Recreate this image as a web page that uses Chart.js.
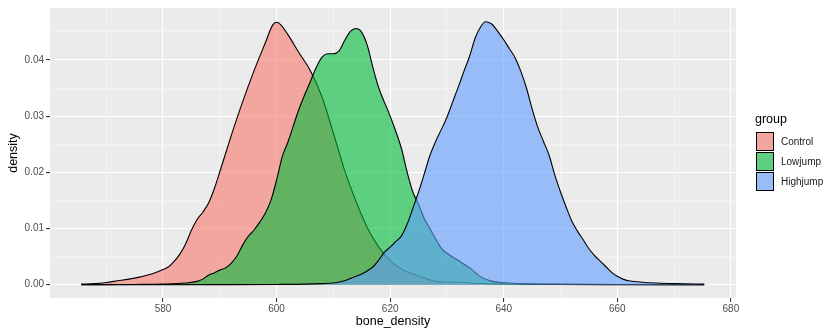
<!DOCTYPE html>
<html>
<head>
<meta charset="utf-8">
<script src="https://cdn.jsdelivr.net/npm/chart.js@4"></script>
<style>
  body { margin: 0; background: #fff; }
  #wrap { position: relative; width: 827px; height: 329px; font-family: "Liberation Sans", Arial, sans-serif; }
  .legend-title { position: absolute; left: 755px; top: 112px; font-size: 12.5px; color: #000; }
  .key { position: absolute; left: 756px; width: 16px; height: 17px; border: 1px solid #000; }
  .key-label { position: absolute; left: 781px; font-size: 10px; color: #1a1a1a; }
</style>
</head>
<body>
<div id="wrap">
  <canvas id="densityChart" width="827" height="329"></canvas>
  <div class="legend-title">group</div>
  <div id="legend"></div>
</div>
<script>

let groups = ["Control", "Lowjump", "Highjump"];
let fills = ["rgba(248,118,109,0.6)", "rgba(0,186,56,0.6)", "rgba(97,156,255,0.6)"];
let keyFills = ["#F3A5A0", "#5ECE80", "#98BCF7"];

let controlX = [565.6, 568, 570, 572, 574, 576, 578, 580, 581, 582, 583, 584, 585, 586, 587, 588, 589, 590, 592, 594, 596, 598, 599.3, 600, 600.7, 602, 604, 606, 608, 610, 612, 614, 616, 618, 620, 622, 624, 626, 628, 630, 632, 634, 637, 642, 650, 660, 675.3];
let controlY = [0.0001, 0.0002, 0.0004, 0.0007, 0.0010, 0.0014, 0.0019, 0.0027, 0.0032, 0.0042, 0.0055, 0.0073, 0.0097, 0.0116, 0.0129, 0.0145, 0.0170, 0.0201, 0.0265, 0.0325, 0.0380, 0.0430, 0.0462, 0.0467, 0.0463, 0.0445, 0.0412, 0.0380, 0.0334, 0.0270, 0.0203, 0.0148, 0.0101, 0.0067, 0.0043, 0.0028, 0.0019, 0.0012, 0.0006, 0.0005, 0.0005, 0.0003, 0.0002, 0.0001, 0.00005, 0.00002, 0];

let lowjumpX = [565.6, 575, 580, 584, 586, 587, 588, 589, 590, 591, 592, 593, 594, 595, 596, 597, 598, 599, 600, 601, 602, 604, 606, 607, 608, 609, 610, 611, 612, 613, 614, 615, 616, 617, 618, 620, 622, 623, 624, 625, 626, 627, 628, 629, 630, 632, 634, 636, 638, 640, 643, 650, 660, 675.3];
let lowjumpY = [0, 0.00005, 0.0001, 0.0003, 0.0006, 0.0010, 0.0017, 0.0021, 0.0026, 0.0030, 0.0038, 0.0051, 0.0070, 0.0086, 0.0097, 0.0111, 0.0127, 0.0150, 0.0186, 0.0228, 0.0254, 0.0314, 0.0363, 0.0387, 0.0405, 0.0411, 0.0411, 0.0416, 0.0435, 0.0451, 0.0456, 0.0449, 0.0425, 0.0385, 0.0350, 0.0300, 0.0242, 0.0200, 0.0165, 0.0143, 0.0118, 0.0100, 0.0082, 0.0065, 0.0056, 0.0043, 0.0030, 0.0014, 0.0006, 0.0004, 0.0002, 0.0001, 0.00003, 0];

let highjumpX = [565.6, 590, 600, 605, 608, 610, 612, 613, 614, 615, 616, 617, 618, 619, 620, 621, 622, 623, 624, 625, 626, 627, 628, 629, 630, 631, 632, 633, 634, 635, 636, 636.8, 637.5, 638, 639, 640, 641, 642, 643, 644, 645, 646, 647, 648, 649, 650, 651, 652, 653, 654, 655, 656, 657, 658, 659, 660, 661, 662, 664, 667, 670, 675.3];
let highjumpY = [0, 0.00002, 0.00005, 0.0001, 0.0002, 0.0003, 0.0007, 0.0011, 0.0015, 0.0019, 0.0025, 0.0032, 0.0044, 0.0058, 0.0067, 0.0077, 0.0087, 0.0108, 0.0136, 0.0165, 0.0197, 0.0230, 0.0255, 0.0276, 0.0298, 0.0325, 0.0352, 0.0380, 0.0407, 0.0440, 0.0460, 0.0468, 0.0466, 0.0463, 0.0450, 0.0436, 0.0420, 0.0404, 0.0380, 0.0350, 0.0313, 0.0280, 0.0255, 0.0230, 0.0195, 0.0165, 0.0138, 0.0113, 0.0095, 0.0080, 0.0064, 0.0052, 0.0042, 0.0032, 0.0022, 0.0015, 0.0010, 0.0007, 0.0005, 0.0003, 0.0002, 0.0001];

// grid positions (major every 20 / 0.01, minor halfway)
let xGrid = [570, 580, 590, 600, 610, 620, 630, 640, 650, 660, 670, 680];
let yGrid = [0, 0.005, 0.01, 0.015, 0.02, 0.025, 0.03, 0.035, 0.04, 0.045];

function pts(xs, ys) {
    return xs.map((x, i) => ({ x: x, y: ys[i] }));
}

let isMajorX = v => Math.round(v) % 20 === 0;
let isMajorY = v => Math.round(v * 1000) % 10 === 0;

let fontName = "'Liberation Sans', Arial, sans-serif";

let panelBg = {
    id: "panelBg",
    beforeDraw(chart) {
        let a = chart.chartArea;
        chart.ctx.save();
        chart.ctx.fillStyle = "#EBEBEB";
        chart.ctx.fillRect(a.left, a.top, a.right - a.left, a.bottom - a.top);
        chart.ctx.restore();
    }
};

let seriesX = [controlX, lowjumpX, highjumpX];
let seriesY = [controlY, lowjumpY, highjumpY];

let datasets = groups.map((g, i) => ({
    label: g,
    data: pts(seriesX[i], seriesY[i]),
    backgroundColor: fills[i],
    borderColor: "#000",
    borderWidth: 1.1,
    pointRadius: 0,
    fill: "origin",
    cubicInterpolationMode: "monotone",
    order: groups.length - i
}));

let chart = new Chart(document.getElementById("densityChart"), {
    type: "line",
    data: { datasets: datasets },
    plugins: [panelBg],
    options: {
        responsive: false,
        animation: false,
        layout: { padding: { top: 7, right: 91, left: 0, bottom: 0 } },
        plugins: { legend: { display: false }, tooltip: { enabled: false } },
        scales: {
            x: {
                type: "linear",
                min: 560.1,
                max: 680.9,
                afterBuildTicks: s => { s.ticks = xGrid.map(v => ({ value: v })); },
                afterFit: s => { s.height = 31; },
                border: { display: false },
                grid: {
                    color: c => isMajorX(c.tick.value) ? "#FFFFFF" : "rgba(255,255,255,0.7)",
                    lineWidth: c => isMajorX(c.tick.value) ? 1.1 : 0.55,
                    tickColor: c => isMajorX(c.tick.value) ? "#333333" : "rgba(0,0,0,0)",
                    tickLength: 4
                },
                ticks: {
                    autoSkip: false,
                    maxRotation: 0,
                    padding: 1,
                    color: "#4D4D4D",
                    font: { family: fontName, size: 10 },
                    callback: v => isMajorX(v) ? String(v) : ""
                },
                title: {
                    display: true,
                    text: "bone_density",
                    color: "#000",
                    font: { family: fontName, size: 12.5 },
                    padding: { top: 0, bottom: 0 }
                }
            },
            y: {
                type: "linear",
                min: -0.00236,
                max: 0.04924,
                afterBuildTicks: s => { s.ticks = yGrid.map(v => ({ value: v })); },
                afterFit: s => { s.width = 50; },
                border: { display: false },
                grid: {
                    color: c => isMajorY(c.tick.value) ? "#FFFFFF" : "rgba(255,255,255,0.7)",
                    lineWidth: c => isMajorY(c.tick.value) ? 1.1 : 0.55,
                    tickColor: c => isMajorY(c.tick.value) ? "#333333" : "rgba(0,0,0,0)",
                    tickLength: 4
                },
                ticks: {
                    autoSkip: false,
                    padding: 2,
                    color: "#4D4D4D",
                    font: { family: fontName, size: 10 },
                    callback: v => isMajorY(v) ? v.toFixed(2) : ""
                },
                title: {
                    display: true,
                    text: "density",
                    color: "#000",
                    font: { family: fontName, size: 12.5 },
                    padding: { top: 6, bottom: 0 }
                }
            }
        }
    }
});

// legend drawn like ggplot's guide on the right
let legendBox = document.getElementById("legend");
groups.forEach((g, i) => {
    let top = 132 + i * 20;
    legendBox.innerHTML += `<div class="key" style="top:${top}px;background:${keyFills[i]}"></div>` +
        `<div class="key-label" style="top:${top + 4}px">${g}</div>`;
});
</script>
</body>
</html>
